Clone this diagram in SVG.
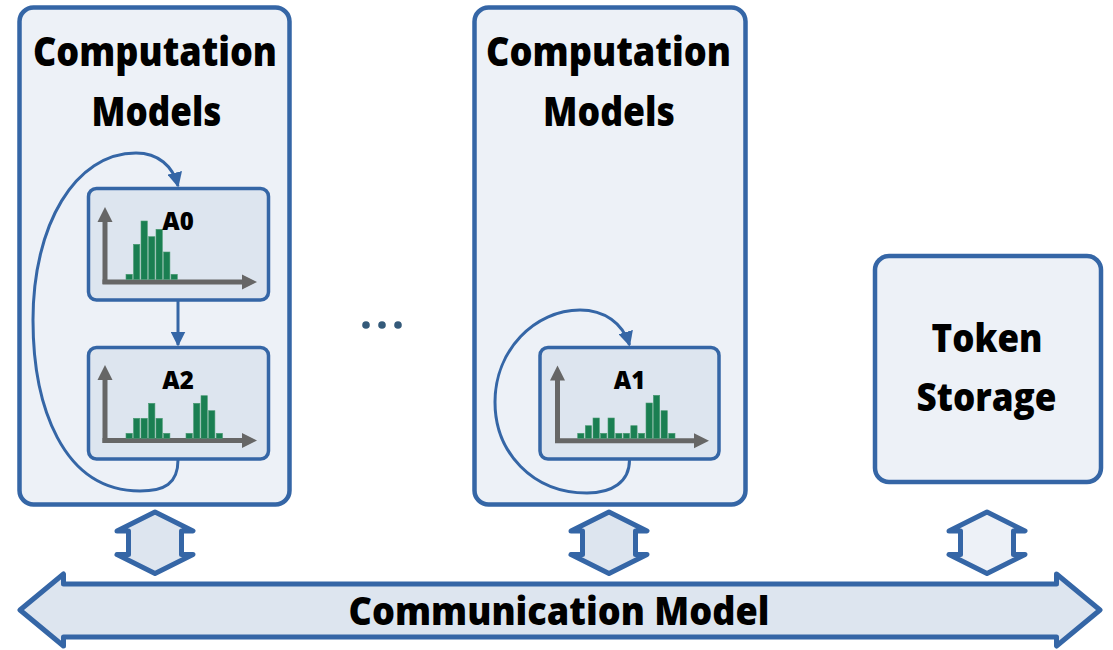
<svg xmlns="http://www.w3.org/2000/svg" width="1113" height="650" viewBox="0 0 1113 650">
<defs>
<style>
.big{fill:#edf1f7;stroke:#3566a6;stroke-width:4.5}
.inner{fill:#dde5ef;stroke:#3566a6;stroke-width:3.5}
.t{font-family:"Open Sans","Noto Sans","Liberation Sans",sans-serif;font-weight:800;fill:#000;text-anchor:middle}
.axis{stroke:#666;stroke-width:5;fill:none}
.ah{fill:#666}
.bar{fill:#1a7f52;stroke:#4a9a72;stroke-width:0.6}
.conn{fill:none;stroke:#3566a6;stroke-width:3}
.hex{stroke:#3566a6;stroke-width:5;stroke-linejoin:round}
</style>
<marker id="arr" viewBox="0 0 10 10" refX="9" refY="5" markerWidth="15" markerHeight="15" markerUnits="userSpaceOnUse" orient="auto">
<path d="M0,0 L10,5 L0,10 z" fill="#3566a6"/>
</marker>
</defs>

<g id="cm-left">
<rect class="big" x="19.5" y="7.5" width="270" height="497" rx="14"/>
<text class="t" x="155" y="66" font-size="40" textLength="244" lengthAdjust="spacingAndGlyphs">Computation</text>
<text class="t" x="156.5" y="126" font-size="40" textLength="130" lengthAdjust="spacingAndGlyphs">Models</text>
</g>

<g id="cm-mid">
<rect class="big" x="474.5" y="7.5" width="271" height="497" rx="14"/>
<text class="t" x="608.5" y="66" font-size="40" textLength="245" lengthAdjust="spacingAndGlyphs">Computation</text>
<text class="t" x="609" y="126" font-size="40" textLength="132" lengthAdjust="spacingAndGlyphs">Models</text>
</g>

<g id="token-storage">
<rect class="big" x="875" y="256" width="226" height="226" rx="14"/>
<text class="t" x="987" y="352" font-size="38" textLength="111" lengthAdjust="spacingAndGlyphs">Token</text>
<text class="t" x="986.5" y="411" font-size="38" textLength="140" lengthAdjust="spacingAndGlyphs">Storage</text>
</g>

<g id="A0">
<rect class="inner" x="88.5" y="188.5" width="180" height="111.5" rx="8"/>
<line class="axis" x1="105" y1="284" x2="105" y2="220"/>
<polygon class="ah" points="105,207 112.5,222 97.5,222"/>
<line class="axis" x1="102.5" y1="282" x2="244" y2="282"/>
<polygon class="ah" points="257,282 242,274.5 242,289.5"/>
<rect class="bar" x="126" y="274.3" width="6.3" height="5.2"/>
<rect class="bar" x="133.5" y="244.3" width="6.3" height="35.2"/>
<rect class="bar" x="141" y="221" width="6.3" height="58.5"/>
<rect class="bar" x="148.6" y="236.7" width="6.3" height="42.8"/>
<rect class="bar" x="156" y="229.3" width="6.3" height="50.2"/>
<rect class="bar" x="163.6" y="252" width="6.3" height="27.5"/>
<rect class="bar" x="171" y="274.3" width="6.3" height="5.2"/>
<text class="t" x="178" y="230" font-size="24">A0</text>
</g>

<g id="A2">
<rect class="inner" x="88.5" y="347.5" width="180" height="111.5" rx="8"/>
<line class="axis" x1="105" y1="443" x2="105" y2="378"/>
<polygon class="ah" points="105,365 112.5,380 97.5,380"/>
<line class="axis" x1="102.5" y1="440.5" x2="244" y2="440.5"/>
<polygon class="ah" points="257,440.5 242,433 242,448"/>
<rect class="bar" x="126" y="433.3" width="6.3" height="5"/>
<rect class="bar" x="133.5" y="418.3" width="6.3" height="20"/>
<rect class="bar" x="141" y="418.3" width="6.3" height="20"/>
<rect class="bar" x="148.6" y="403.3" width="6.3" height="35"/>
<rect class="bar" x="156" y="418.3" width="6.3" height="20"/>
<rect class="bar" x="163.6" y="433.3" width="6.3" height="5"/>
<rect class="bar" x="186" y="433.3" width="6.3" height="5"/>
<rect class="bar" x="193.6" y="403.3" width="6.3" height="35"/>
<rect class="bar" x="201" y="395.7" width="6.3" height="42.6"/>
<rect class="bar" x="208.6" y="410.7" width="6.3" height="27.6"/>
<rect class="bar" x="216.2" y="433.3" width="6.3" height="5"/>
<text class="t" x="178" y="389" font-size="24">A2</text>
</g>

<g id="A1">
<rect class="inner" x="540" y="347.5" width="179" height="111.5" rx="8"/>
<line class="axis" x1="557.5" y1="443" x2="557.5" y2="378"/>
<polygon class="ah" points="557.5,365.5 565,380.5 550,380.5"/>
<line class="axis" x1="555" y1="440.7" x2="696" y2="440.7"/>
<polygon class="ah" points="709,440.7 694,433.2 694,448.2"/>
<rect class="bar" x="577.7" y="433.3" width="6.3" height="5"/>
<rect class="bar" x="585.3" y="425.7" width="6.3" height="12.6"/>
<rect class="bar" x="593" y="418" width="6.3" height="20.3"/>
<rect class="bar" x="600.5" y="433.3" width="6.3" height="5"/>
<rect class="bar" x="608" y="418" width="6.3" height="20.3"/>
<rect class="bar" x="615.7" y="433.3" width="6.3" height="5"/>
<rect class="bar" x="623.3" y="433.3" width="6.3" height="5"/>
<rect class="bar" x="630.8" y="425.7" width="6.3" height="12.6"/>
<rect class="bar" x="638.4" y="433.3" width="6.3" height="5"/>
<rect class="bar" x="646" y="403" width="6.3" height="35.3"/>
<rect class="bar" x="653.4" y="395.3" width="6.3" height="43"/>
<rect class="bar" x="661" y="410.7" width="6.3" height="27.6"/>
<rect class="bar" x="668.7" y="433.3" width="6.3" height="5"/>
<text class="t" x="629.5" y="389" font-size="24">A1</text>
</g>

<g id="dots" fill="#345a7a">
<circle cx="366" cy="325" r="3.8"/>
<circle cx="382" cy="325" r="3.8"/>
<circle cx="398" cy="325" r="3.8"/>
</g>

<g id="comm-model">
<polygon fill="#dde5ef" class="hex" points="20,610 63.5,574 63.5,584 1056.5,584 1056.5,574 1100,610 1056.5,646 1056.5,637 63.5,637 63.5,646"/>
<text class="t" x="559" y="625" font-size="38" textLength="421" lengthAdjust="spacingAndGlyphs">Communication Model</text>
</g>

<g id="connectors">
<path class="conn" d="M178,300.5 L178,345" marker-end="url(#arr)"/>
<path class="conn" d="M178,460 C178,484 164,491 140,491 C62,491 33,405 33,320 C33,225 75,153 136,153 C158,153 173,166 178,186" marker-end="url(#arr)"/>
<path class="conn" d="M629.5,460 C629.5,482 612,493 587,493 C532,493 495,452 495,402 C495,350 535,310 580,310 C604,310 623,323 629.5,345" marker-end="url(#arr)"/>
<polygon fill="#dde5ef" class="hex" points="155,512 193,531 181.5,531 181.5,554.5 193,554.5 155,573.5 117,554.5 128.5,554.5 128.5,531 117,531"/>
<polygon fill="#dde5ef" class="hex" points="609,512 647,531 635.5,531 635.5,554.5 647,554.5 609,573.5 571,554.5 582.5,554.5 582.5,531 571,531"/>
<polygon fill="#edf1f7" class="hex" points="987,512 1025,531 1013.5,531 1013.5,554.5 1025,554.5 987,573.5 949,554.5 960.5,554.5 960.5,531 949,531"/>
</g>
</svg>
